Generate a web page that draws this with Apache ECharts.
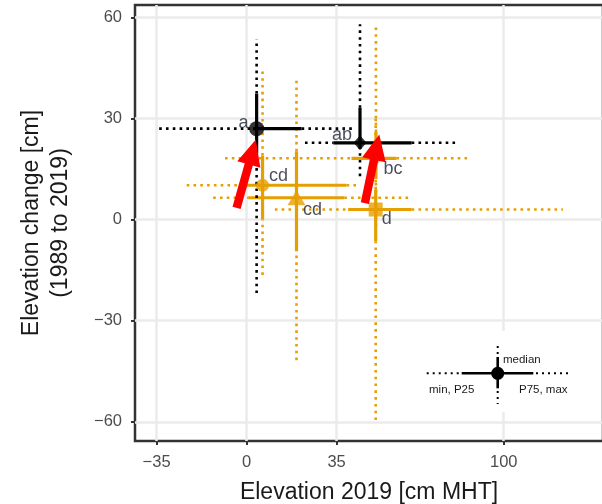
<!DOCTYPE html>
<html>
<head>
<meta charset="utf-8">
<script src="https://cdn.jsdelivr.net/npm/echarts@6/dist/echarts.min.js"></script>
<style>
  html, body { margin: 0; padding: 0; background: #fff; }
  #chart { width: 602px; height: 504px; }
</style>
</head>
<body>
<div id="chart"></div>
<script>
// groups (letters), marker shapes and colour class
var groups = ['a', 'ab', 'cd', 'cd', 'bc', 'd'];
var shapes = ['circle', 'diamond', 'circle', 'triangle', 'diamond', 'rect'];
var kinds  = ['black', 'black', 'orange', 'orange', 'orange', 'orange'];

// medians
var medX = [3.9, 44.1, 6.2, 19.4, 50.3, 50.2];
var medY = [27, 22.8, 10.2, 6.5, 18.2, 3];
// elevation 2019: min, P25, P75, max
var xMin = [-34, 22.7, -23.3, -13, -8.4, 11];
var xP25 = [2.5, 33.7, 0, 0.6, 40.8, 39.5];
var xP75 = [21.4, 64.2, 38.9, 38, 58.3, 64.2];
var xMax = [42.5, 81.7, 42.8, 63.6, 86.2, 123];
// elevation change: min, P25, P75, max
var yMin = [-21.8, 12.9, -16.4, -41.7, -2, -59.5];
var yP25 = [19.6, 21, 0, -9.4, 12, -6.4];
var yP75 = [37.4, 33.2, 19, 20.3, 26, 9];
var yMax = [53.6, 58, 44.6, 41.4, 57.5, 30];

var xTicks = [-35, 0, 35, 100];
var yTicks = [-60, -30, 0, 30, 60];

// red annotation arrows (tail -> tip)
var arrowFrom = [[-3.9, 3.5], [46, 4.9]];
var arrowTo   = [[3.6, 23.8], [51.6, 25.3]];

var colorOf = { black: '#000000', orange: '#E69F00' };
var symbolSizes = [15, [13, 15], 13, [18, 15], [13, 15], 14];
var labelOffsets = [[-13, -6], [-18, -8], [16, -9], [16, 12], [17, 11], [11, 10]];
var FONT = 'Liberation Sans, Arial, Helvetica, sans-serif';

function minus(v) { return v < 0 ? '\u2212' + Math.abs(v) : String(v); }

function renderCross(params, api) {
  var color = api.visual('color');
  var v = [];
  for (var k = 0; k < 10; k++) v.push(api.value(k));
  var mx = v[0], my = v[1];
  function seg(x1, y1, x2, y2, dotted) {
    var a = api.coord([x1, y1]);
    var b = api.coord([x2, y2]);
    return {
      type: 'line',
      shape: { x1: a[0], y1: a[1], x2: b[0], y2: b[1] },
      style: {
        stroke: color,
        lineWidth: dotted ? 2.6 : 3.2,
        lineDash: dotted ? [2.6, 4.2] : null,
        lineCap: 'butt'
      }
    };
  }
  return {
    type: 'group',
    children: [
      seg(v[2], my, v[3], my, true),
      seg(v[3], my, v[4], my, false),
      seg(v[4], my, v[5], my, true),
      seg(mx, v[6], mx, v[7], true),
      seg(mx, v[7], mx, v[8], false),
      seg(mx, v[8], mx, v[9], true)
    ]
  };
}

function renderArrow(params, api) {
  var a = api.coord([api.value(0), api.value(1)]);
  var b = api.coord([api.value(2), api.value(3)]);
  var dx = b[0] - a[0], dy = b[1] - a[1];
  var len = Math.sqrt(dx * dx + dy * dy);
  var ux = dx / len, uy = dy / len, nx = -uy, ny = ux;
  var headLen = 26, headW = 12, shaftW = 4.2;
  var hx = b[0] - ux * headLen, hy = b[1] - uy * headLen;
  return {
    type: 'polygon',
    shape: {
      points: [
        [a[0] + nx * shaftW, a[1] + ny * shaftW],
        [hx + nx * shaftW, hy + ny * shaftW],
        [hx + nx * headW, hy + ny * headW],
        [b[0], b[1]],
        [hx - nx * headW, hy - ny * headW],
        [hx - nx * shaftW, hy - ny * shaftW],
        [a[0] - nx * shaftW, a[1] - ny * shaftW]
      ]
    },
    style: { fill: '#FF0000' }
  };
}

function crossData(kind) {
  var out = [];
  groups.forEach(function (g, i) {
    if (kinds[i] !== kind) return;
    out.push({
      value: [medX[i], medY[i], xMin[i], xP25[i], xP75[i], xMax[i], yMin[i], yP25[i], yP75[i], yMax[i]],
      itemStyle: { color: colorOf[kind] }
    });
  });
  return out;
}

var pointData = groups.map(function (g, i) {
  return {
    name: g,
    value: [medX[i], medY[i]],
    symbol: shapes[i],
    symbolSize: symbolSizes[i],
    itemStyle: { color: colorOf[kinds[i]] },
    label: { offset: labelOffsets[i] }
  };
});

var arrowData = arrowFrom.map(function (f, i) {
  return [f[0], f[1], arrowTo[i][0], arrowTo[i][1]];
});

var chart = echarts.init(document.getElementById('chart'));

var option = {
  animation: false,
  grid: {
    left: 135, right: -1, top: 5, bottom: 63,
    outerBoundsMode: 'none',
    show: true, borderColor: '#333333', borderWidth: 2.5, backgroundColor: '#fff'
  },
  xAxis: {
    type: 'value',
    min: -43.4, max: 138.6,
    name: 'Elevation 2019 [cm MHT]',
    nameLocation: 'middle',
    nameGap: 40,
    nameTextStyle: { fontFamily: FONT, fontSize: 23, color: '#1a1a1a' },
    axisLine: { show: false, onZero: false },
    axisTick: { show: true, customValues: xTicks, length: 4, lineStyle: { color: '#333', width: 2 } },
    axisLabel: { customValues: xTicks, fontFamily: FONT, fontSize: 16.5, color: '#4d4d4d', margin: 13, formatter: minus },
    splitLine: { show: true, lineStyle: { color: '#EBEBEB', width: 2.5 } }
  },
  yAxis: {
    type: 'value',
    min: -65.7, max: 63.7,
    name: 'Elevation change [cm]\n(1989 to 2019)',
    nameLocation: 'middle',
    nameRotate: 90,
    nameGap: 60.5,
    nameTextStyle: { fontFamily: FONT, fontSize: 23, color: '#1a1a1a', lineHeight: 28.6, align: 'center' },
    axisLine: { show: false, onZero: false },
    axisTick: { show: true, customValues: yTicks, length: 4, lineStyle: { color: '#333', width: 2 } },
    axisLabel: { customValues: yTicks, fontFamily: FONT, fontSize: 16.5, color: '#4d4d4d', margin: 13, formatter: minus },
    splitLine: { show: true, lineStyle: { color: '#EBEBEB', width: 2.5 } }
  },
  graphic: [
    { type: 'rect', z: 100, shape: { x: 418, y: 331, width: 180, height: 81 }, style: { fill: '#fff' } },
    { type: 'line', z: 101, shape: { x1: 426.7, y1: 373.3, x2: 461.7, y2: 373.3 },
      style: { stroke: '#000', lineWidth: 2, lineDash: [2, 4] } },
    { type: 'line', z: 101, shape: { x1: 461.7, y1: 373.3, x2: 533.3, y2: 373.3 },
      style: { stroke: '#000', lineWidth: 2.6 } },
    { type: 'line', z: 101, shape: { x1: 536, y1: 373.3, x2: 569, y2: 373.3 },
      style: { stroke: '#000', lineWidth: 2, lineDash: [2, 4] } },
    { type: 'line', z: 101, shape: { x1: 497.7, y1: 346, x2: 497.7, y2: 357 },
      style: { stroke: '#000', lineWidth: 2, lineDash: [2, 4] } },
    { type: 'line', z: 101, shape: { x1: 497.7, y1: 357, x2: 497.7, y2: 388.3 },
      style: { stroke: '#000', lineWidth: 2.6 } },
    { type: 'line', z: 101, shape: { x1: 497.7, y1: 391, x2: 497.7, y2: 404 },
      style: { stroke: '#000', lineWidth: 2, lineDash: [2, 4] } },
    { type: 'circle', z: 102, shape: { cx: 497.7, cy: 373.3, r: 6.5 }, style: { fill: '#000' } },
    { type: 'text', z: 102, x: 503, y: 360, style: { text: 'median', font: '11.5px ' + FONT, fill: '#1a1a1a', textAlign: 'left', textVerticalAlign: 'middle' } },
    { type: 'text', z: 102, x: 451.7, y: 389.5, style: { text: 'min, P25', font: '11.5px ' + FONT, fill: '#1a1a1a', textAlign: 'center', textVerticalAlign: 'middle' } },
    { type: 'text', z: 102, x: 543.3, y: 389.5, style: { text: 'P75, max', font: '11.5px ' + FONT, fill: '#1a1a1a', textAlign: 'center', textVerticalAlign: 'middle' } }
  ],
  series: [
    { type: 'custom', name: 'orange', renderItem: renderCross, data: crossData('orange'), encode: { x: 0, y: 1 }, z: 2 },
    { type: 'custom', name: 'black', renderItem: renderCross, data: crossData('black'), encode: { x: 0, y: 1 }, z: 3 },
    {
      type: 'scatter',
      data: pointData,
      z: 4,
      label: {
        show: true,
        position: 'inside',
        formatter: '{b}',
        fontFamily: FONT,
        fontSize: 18,
        color: '#1c2033'
      }
    },
    { type: 'custom', renderItem: renderArrow, data: arrowData, encode: { x: [0, 2], y: [1, 3] }, z: 5 }
  ]
};

chart.setOption(option);
</script>
</body>
</html>
